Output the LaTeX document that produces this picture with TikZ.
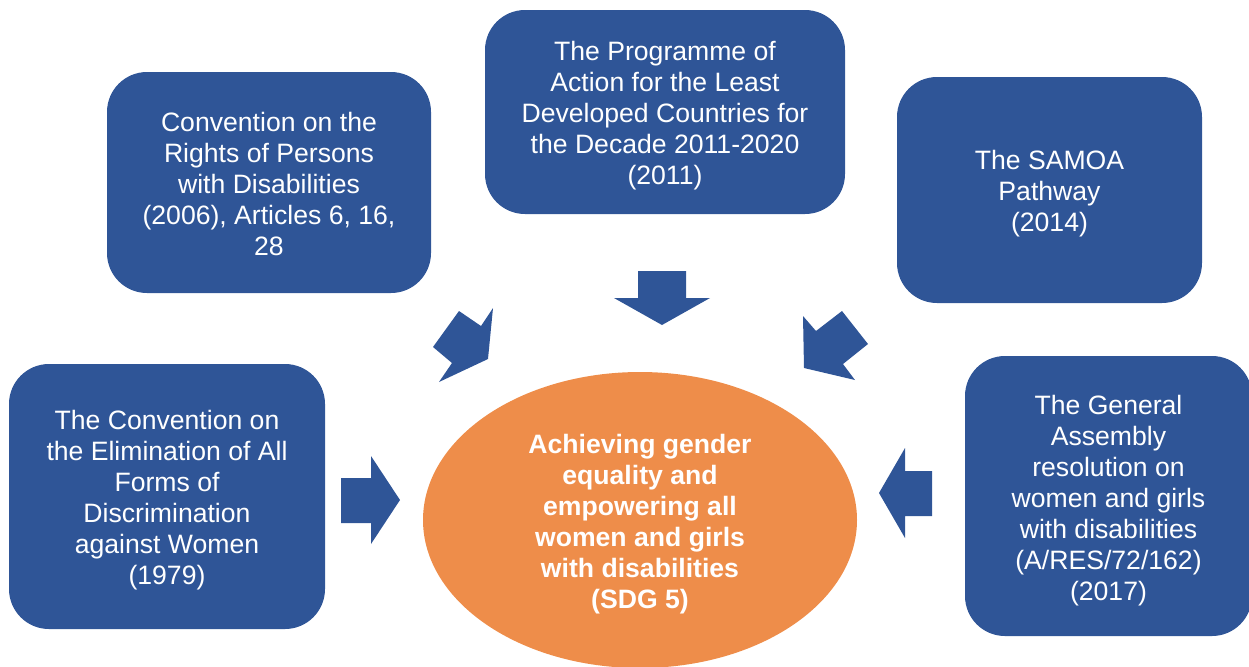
\documentclass[tikz,border=0pt]{standalone}
\usepackage{fontspec}
\setmainfont{Liberation Sans}
\usetikzlibrary{shapes.geometric}
\definecolor{boxblue}{HTML}{2F5597}
\definecolor{goalorange}{HTML}{EE8D4A}
\tikzset{
  docbox/.style={fill=boxblue, draw=none, rounded corners=20pt, inner sep=0pt},
  doctext/.style={text=white, align=center, font=\fontsize{13.3}{15.5}\selectfont, inner sep=0pt},
  goal/.style={ellipse, fill=goalorange, draw=none, inner sep=0pt},
  goaltext/.style={text=white, align=center, font=\bfseries\fontsize{13.3}{15.5}\selectfont, inner sep=0pt},
  blockarrow/.style={fill=boxblue, draw=none}
}
\begin{document}
\begin{tikzpicture}[x=0.5pt,y=-0.5pt]
\useasboundingbox (0,0) rectangle (1249,666);
\node[docbox, minimum width=162pt, minimum height=110.5pt] (crpd) at (269,182.5) {};
\node[doctext] (crpdt) at ([yshift=-0.5pt]crpd.center)
  {Convention on the\\Rights of Persons\\with Disabilities\\(2006), Articles 6, 16,\\28};
\node[docbox, minimum width=180pt, minimum height=102pt] (poa) at (665,112) {};
\node[doctext] (poat) at ([yshift=-1.8pt]poa.center)
  {The Programme of\\Action for the Least\\Developed Countries for\\the Decade 2011-2020\\(2011)};
\node[docbox, minimum width=152.5pt, minimum height=113pt] (samoa) at (1049.5,190) {};
\node[doctext] (samoat) at ([yshift=-2pt]samoa.center)
  {The SAMOA\\Pathway\\(2014)};
\node[docbox, minimum width=158pt, minimum height=132.5pt] (cedaw) at (167,496.5) {};
\node[doctext] (cedawt) at ([yshift=-2pt]cedaw.center)
  {The Convention on\\the Elimination of All\\Forms of\\Discrimination\\against Women\\(1979)};
\node[docbox, minimum width=143.5pt, minimum height=140pt] (ga) at (1108.5,496) {};
\node[doctext] (gat) at ([yshift=-2.2pt]ga.center)
  {The General\\Assembly\\resolution on\\women and girls\\with disabilities\\(A/RES/72/162)\\(2017)};
\node[goal, minimum width=217pt, minimum height=148pt] (sdg) at (640,520) {};
\node[goaltext] (sdgt) at ([yshift=-2.2pt]sdg.center)
  {Achieving gender\\equality and\\empowering all\\women and girls\\with disabilities\\(SDG 5)};
% block arrows
\fill[blockarrow] (638,271) -- (686,271) -- (686,298) -- (710,298) -- (662,325) -- (614,298) -- (638,298) -- cycle;
\fill[blockarrow] (341,478) -- (371,478) -- (371,456) -- (400,500) -- (371,544) -- (371,523) -- (341,523) -- cycle;
\fill[blockarrow] (932,471) -- (905,471) -- (905,448) -- (879,493) -- (905,538) -- (905,516) -- (932,516) -- cycle;
\fill[blockarrow] (433,347) -- (459,311) -- (481,326) -- (493,308) -- (488,359) -- (439,382) -- (452,363) -- cycle;
\fill[blockarrow] (842,311) -- (868,344) -- (843,364) -- (855,380) -- (804,368) -- (803,316) -- (816,331) -- cycle;
\end{tikzpicture}
\end{document}
